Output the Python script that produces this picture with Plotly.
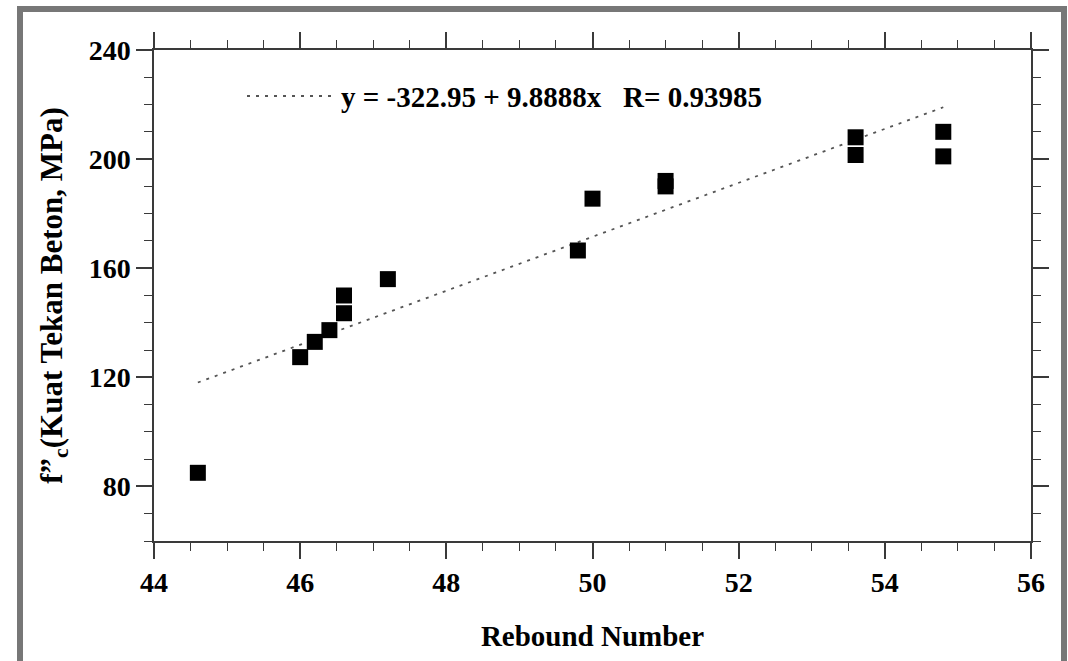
import plotly.graph_objects as go

# ---- data ----
rebound = [44.6, 46.0, 46.2, 46.4, 46.6, 46.6, 47.2, 49.8, 50.0, 51.0, 51.0, 53.6, 53.6, 54.8, 54.8]
fc      = [85.0, 127.4, 133.0, 137.3, 150.0, 143.5, 156.0, 166.5, 185.5, 192.0, 190.0, 208.0, 201.5, 210.0, 201.0]

trend_x = [44.6, 54.8]
trend_y = [118.1, 219.0]

legend_text = "y = -322.95 + 9.8888x   R= 0.93985"
x_title = "Rebound Number"
y_title = "f\u201d<sub>c</sub>(Kuat Tekan Beton, MPa)"

x_tickvals = [44, 46, 48, 50, 52, 54, 56]
y_tickvals = [80, 120, 160, 200, 240]

# ---- layout constants (pixels) ----
W, H = 1068, 661
L, R, T, B = 154, 37, 50, 120
PW, PH = W - L - R, H - T - B

def px_x(px):
    return (px - L) / PW

def px_y(py):
    return (H - B - py) / PH

FONT = "Liberation Serif"
AX_COLOR = "#3a3a3a"

fig = go.Figure()

fig.add_trace(go.Scatter(
    x=trend_x, y=trend_y, mode="lines",
    line=dict(color="#555555", width=1.8, dash="3px,6px"),
    showlegend=False, hoverinfo="skip"))

fig.add_trace(go.Scatter(
    x=rebound, y=fc, mode="markers",
    marker=dict(symbol="square", size=16, color="black", line=dict(width=0)),
    showlegend=False))

axis_common = dict(
    showgrid=False, zeroline=False,
    showline=True, linecolor=AX_COLOR, linewidth=1.5,
    mirror="allticks", ticks="outside", ticklen=16, tickwidth=1.5, tickcolor=AX_COLOR,
    tickfont=dict(family=FONT, size=28, color="black", weight="bold"),
    minor=dict(ticks="outside", ticklen=8, tickwidth=1.3, tickcolor=AX_COLOR, showgrid=False),
)

fig.update_xaxes(
    range=[44, 56], tickvals=x_tickvals, minor_dtick=0.5,
    title=dict(text=x_title, font=dict(family=FONT, size=29, color="black", weight="bold"), standoff=28),
    **axis_common)
fig.update_yaxes(
    range=[60, 240], tickvals=y_tickvals, minor_dtick=10,
    title=dict(text=y_title, font=dict(family=FONT, size=31, color="black", weight="bold"), standoff=17),
    **axis_common)

# legend sample line and text
fig.add_shape(type="line", xref="paper", yref="paper",
              x0=px_x(247), x1=px_x(336), y0=px_y(96), y1=px_y(96),
              line=dict(color="#555555", width=1.8, dash="3px,6px"))
fig.add_annotation(xref="paper", yref="paper", x=px_x(339), y=px_y(97),
                   xanchor="left", yanchor="middle", showarrow=False,
                   text=legend_text,
                   font=dict(family=FONT, size=29, color="black", weight="bold"))

# outer grey frame
fig.add_shape(type="rect", xref="paper", yref="paper",
              x0=px_x(20), x1=px_x(1064), y0=px_y(720), y1=px_y(9),
              line=dict(color="#777777", width=6), fillcolor="rgba(0,0,0,0)", layer="above")

fig.update_layout(
    width=W, height=H,
    margin=dict(l=L, r=R, t=T, b=B),
    paper_bgcolor="white", plot_bgcolor="white",
    showlegend=False,
)

fig.write_html("out.html")
